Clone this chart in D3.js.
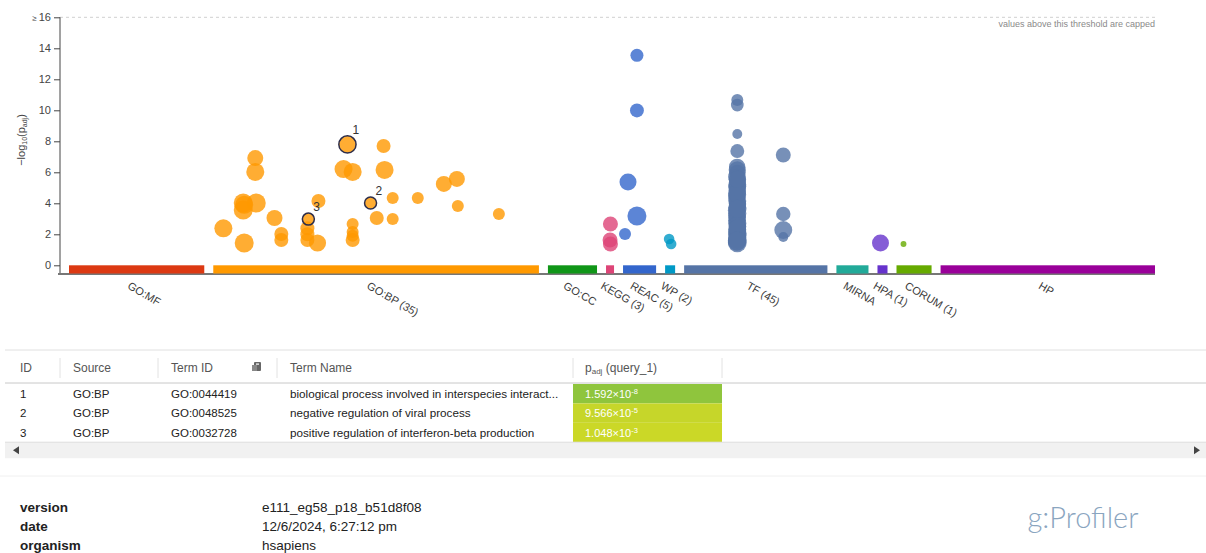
<!DOCTYPE html>
<html>
<head>
<meta charset="utf-8">
<script src="https://cdn.jsdelivr.net/npm/d3@7"></script>
<style>
  html, body { margin: 0; padding: 0; background: #fff; }
  svg { display: block; font-family: "Liberation Sans", Arial, sans-serif; }
</style>
</head>
<body>
<svg id="page" width="1206" height="553"></svg>
<script>
// ---- data sources along the x axis ----
const sources = ["GO:MF", "GO:BP", "GO:CC", "KEGG", "REAC", "WP", "TF", "MIRNA", "HPA", "CORUM", "HP"];
const sourceHits = [0, 35, 0, 3, 5, 2, 45, 0, 1, 1, 0];
// relative size of each source's term space (sets the width of its band)
const sourceTermSpace = [135, 325, 49, 8, 33, 10, 143, 32, 10, 35, 214];
const sourceColors = ["#dc3912", "#ff9900", "#109618", "#dd4477", "#3366cc", "#0099c6",
                      "#5574a6", "#22aa99", "#6633cc", "#66aa00", "#990099"];

const yTicks = [0, 2, 4, 6, 8, 10, 12, 14, 16];
const yCap = 16;

// ---- significant terms: [position within source (0-1), -log10(p_adj), term size] ----
const hitsGOBP = [
  [0.129, 6.92, 1000], [0.129, 6.02, 3200], [0.092, 4.02, 5600], [0.132, 4.02, 5600],
  [0.092, 3.57, 5600], [0.095, 3.90, 3200], [0.031, 2.39, 3200], [0.095, 1.44, 5600],
  [0.188, 3.05, 1000], [0.209, 2.02, 320], [0.209, 1.63, 320], [0.323, 4.15, 320],
  [0.289, 2.39, 320], [0.289, 2.00, 320], [0.289, 1.63, 320], [0.320, 1.44, 2000],
  [0.400, 6.21, 3200], [0.428, 6.02, 3200], [0.428, 2.66, 100], [0.428, 2.15, 100],
  [0.428, 1.90, 100], [0.428, 1.63, 320], [0.523, 7.70, 320], [0.526, 6.15, 3200],
  [0.551, 4.34, 100], [0.502, 3.05, 320], [0.551, 2.99, 100], [0.628, 4.34, 100],
  [0.708, 5.25, 1000], [0.748, 5.57, 1000], [0.751, 3.83, 100], [0.877, 3.31, 100]
];
const hitsKEGG = [[0.55, 2.66, 560], [0.50, 1.63, 560], [0.55, 1.37, 560]];
const hitsREAC = [[0.42, 13.55, 180], [0.42, 9.99, 300], [0.15, 5.37, 1800],
                  [0.42, 3.18, 5600], [0.06, 2.02, 100]];
const hitsWP = [[0.40, 1.70, 45], [0.60, 1.37, 45]];
const hitsTF = [
  [0.371, 10.67, 100], [0.371, 10.34, 150], [0.371, 8.47, 30], [0.371, 7.37, 300],
  [0.371, 6.15, 2000], [0.371, 5.95, 1500], [0.368, 5.70, 2500], [0.372, 5.45, 1800],
  [0.371, 5.20, 3000], [0.369, 5.00, 2200], [0.373, 4.80, 1600], [0.371, 4.55, 2800],
  [0.367, 4.35, 2000], [0.371, 4.15, 3100], [0.374, 3.95, 1700], [0.371, 3.75, 2600],
  [0.366, 3.55, 2100], [0.371, 3.35, 3300], [0.372, 3.10, 1900], [0.369, 2.90, 2700],
  [0.371, 2.70, 3500], [0.373, 2.50, 2300], [0.371, 2.30, 3000], [0.368, 2.15, 2500],
  [0.371, 1.95, 3800], [0.372, 1.80, 2900], [0.371, 1.65, 4200], [0.369, 1.52, 3500],
  [0.371, 1.45, 5000], [0.370, 6.35, 1200], [0.372, 5.10, 2400], [0.371, 4.00, 1400],
  [0.368, 3.20, 2600], [0.371, 2.60, 1800], [0.373, 2.05, 3200], [0.371, 1.72, 2000],
  [0.369, 4.65, 2900], [0.372, 3.65, 3400], [0.371, 2.40, 2200], [0.370, 1.58, 4600],
  [0.372, 5.55, 2100],
  [0.692, 7.12, 560], [0.692, 3.31, 400], [0.692, 2.28, 3000], [0.692, 1.83, 30]
];
const hitsHPA = [[0.30, 1.44, 1800]];
const hitsCORUM = [[0.20, 1.37, 3]];
const hitsBySource = { "GO:BP": hitsGOBP, "KEGG": hitsKEGG, "REAC": hitsREAC, "WP": hitsWP,
                       "TF": hitsTF, "HPA": hitsHPA, "CORUM": hitsCORUM };

// ---- highlighted terms (also listed in the table) ----
const tableIds = [1, 2, 3];
const tableSources = ["GO:BP", "GO:BP", "GO:BP"];
const tableTermIds = ["GO:0044419", "GO:0048525", "GO:0032728"];
const tableNames = ["biological process involved in interspecies interact...",
                    "negative regulation of viral process",
                    "positive regulation of interferon-beta production"];
const tablePadj = [1.592e-8, 9.566e-5, 1.048e-3];
const tablePos = [0.412, 0.483, 0.292];
const tableTermSize = [2000, 100, 100];

// ---- footer ----
const metaKeys = ["version", "date", "organism"];
const metaValues = ["e111_eg58_p18_b51d8f08", "12/6/2024, 6:27:12 pm", "hsapiens"];

// ================= drawing =================
const svg = d3.select("#page");
const plotLeft = 69, plotRight = 1155, bandGap = 9, axisX = 60;
const yBase = 275;

const y = d3.scaleLinear().domain([0, yCap]).range([265.3, 17.3]);
const r = d3.scaleLog().domain([1, 10000]).range([2, 10]);

// lay out one band per source
const spanScale = d3.scaleLinear()
  .domain([0, d3.sum(sourceTermSpace)])
  .range([0, plotRight - plotLeft - bandGap * (sources.length - 1)]);
let acc = 0;
const bands = sources.map((name, i) => {
  const x0 = plotLeft + spanScale(acc) + bandGap * i;
  acc += sourceTermSpace[i];
  const x1 = plotLeft + spanScale(acc) + bandGap * i;
  return { name, i, x0, x1, color: sourceColors[i], hits: sourceHits[i],
           x: d3.scaleLinear().domain([0, 1]).range([x0, x1]) };
});
const bandOf = Object.fromEntries(bands.map(b => [b.name, b]));

// capped threshold line
svg.append("line")
  .attr("x1", axisX).attr("x2", plotRight)
  .attr("y1", y(yCap)).attr("y2", y(yCap))
  .attr("stroke", "#d0d0d0").attr("stroke-dasharray", "3,3");
svg.append("text")
  .attr("x", plotRight).attr("y", 27)
  .attr("text-anchor", "end").attr("font-size", 9).attr("fill", "#8a8a8a")
  .text("values above this threshold are capped");

// y axis
const yAxis = d3.axisLeft(y).tickValues(yTicks).tickSizeOuter(0).tickSize(6).tickPadding(3)
  .tickFormat(d => d === yCap ? "" : d);
const gy = svg.append("g").attr("transform", `translate(${axisX},0)`).call(yAxis);
gy.select(".domain").remove();
gy.selectAll(".tick line").attr("stroke", "#444");
gy.selectAll(".tick text").attr("font-size", 11).attr("fill", "#444")
  .attr("font-family", "Liberation Sans, Arial, sans-serif");
const capTick = gy.selectAll(".tick").filter(d => d === yCap).select("text");
capTick.append("tspan").attr("font-size", 8).text("≥ ");
capTick.append("tspan").attr("font-size", 11).text(yCap);
svg.append("line").attr("x1", axisX).attr("x2", axisX)
  .attr("y1", y(yCap)).attr("y2", yBase).attr("stroke", "#444");

// y axis title
const yTitle = svg.append("text")
  .attr("transform", "translate(25,140) rotate(-90)")
  .attr("text-anchor", "middle").attr("font-size", 11).attr("fill", "#444");
yTitle.append("tspan").text("\u2212log");
yTitle.append("tspan").attr("font-size", 7).attr("dy", 2).text("10");
yTitle.append("tspan").attr("dy", -2).text("(p");
yTitle.append("tspan").attr("font-size", 7).attr("dy", 2).text("adj");
yTitle.append("tspan").attr("dy", -2).text(")");

// source bands
svg.append("line").attr("x1", axisX - 2).attr("x2", plotRight)
  .attr("y1", yBase - 1).attr("y2", yBase - 1)
  .attr("stroke", "#777").attr("stroke-width", 2);
svg.append("g").selectAll("rect").data(bands).join("rect")
  .attr("x", d => d.x0).attr("width", d => d.x1 - d.x0)
  .attr("y", y(0)).attr("height", yBase - 1.5 - y(0))
  .attr("fill", d => d.color);

// source labels
svg.append("g").selectAll("text").data(bands).join("text")
  .attr("transform", d => `translate(${(d.x0 + d.x1) / 2 - 10},288) rotate(30)`)
  .attr("font-size", 11).attr("fill", "#3a3a3a")
  .text(d => d.hits > 0 ? `${d.name} (${d.hits})` : d.name);

// term circles
const points = [];
Object.entries(hitsBySource).forEach(([src, arr]) => {
  arr.forEach(([pos, val, size]) => points.push({ src, pos, val, size }));
});
const highlighted = tableIds.map((id, i) => ({
  id, src: tableSources[i], pos: tablePos[i], val: -Math.log10(tablePadj[i]), size: tableTermSize[i]
}));
points.push(...highlighted);

svg.append("g").selectAll("circle").data(points).join("circle")
  .attr("cx", d => bandOf[d.src].x(d.pos))
  .attr("cy", d => y(Math.min(d.val, yCap)))
  .attr("r", d => r(d.size))
  .attr("fill", d => bandOf[d.src].color)
  .attr("fill-opacity", 0.8);

// outlines and numbers for highlighted terms
const hl = svg.append("g").selectAll("g").data(highlighted).join("g");
hl.append("circle")
  .attr("cx", d => bandOf[d.src].x(d.pos))
  .attr("cy", d => y(d.val))
  .attr("r", d => r(d.size))
  .attr("fill", "none").attr("stroke", "#2d2d4a").attr("stroke-width", 1.5);
hl.append("text")
  .attr("x", d => bandOf[d.src].x(d.pos) + 5)
  .attr("y", d => y(d.val) - r(d.size) - 2)
  .attr("font-size", 12).attr("fill", "#333")
  .text(d => d.id);

// ================= results table =================
const tableLeft = 5, tableRight = 1206;
const headerTop = 350, headerBottom = 383, rowH = 19.4;
const colX = [20, 73, 171, 290, 585];
const colSeps = [60, 158, 277, 573, 722];
const pCell = [573, 722];

svg.append("line").attr("x1", tableLeft).attr("x2", tableRight)
  .attr("y1", headerTop).attr("y2", headerTop).attr("stroke", "#e0e0e0");
svg.append("line").attr("x1", tableLeft).attr("x2", tableRight)
  .attr("y1", headerBottom).attr("y2", headerBottom).attr("stroke", "#c8c8c8");
svg.append("g").selectAll("line").data(colSeps).join("line")
  .attr("x1", d => d).attr("x2", d => d).attr("y1", 358).attr("y2", 378)
  .attr("stroke", "#e2e2e2");

const header = svg.append("g").attr("font-size", 12).attr("fill", "#555");
["ID", "Source", "Term ID", "Term Name"].forEach((t, i) => {
  header.append("text").attr("x", colX[i]).attr("y", 372).text(t);
});
const pHead = header.append("text").attr("x", colX[4]).attr("y", 372);
pHead.append("tspan").text("p");
pHead.append("tspan").attr("font-size", 8).attr("dy", 2).text("adj");
pHead.append("tspan").attr("dy", -2).text(" (query_1)");
// export icon in the Term ID header
const icon = svg.append("g").attr("transform", "translate(252,362)").attr("fill", "#666");
icon.append("rect").attr("x", 2).attr("y", 0).attr("width", 7).attr("height", 9).attr("rx", 1);
icon.append("rect").attr("x", 0).attr("y", 3).attr("width", 5).attr("height", 6).attr("fill", "#888");
icon.append("rect").attr("x", 4).attr("y", 1.5).attr("width", 3).attr("height", 1.2).attr("fill", "#fff");

const pColor = d3.scaleLinear().domain([2, 4, 8, 16])
  .range(["#cfd925", "#c6d62a", "#8cc43e", "#3d9f3b"]);
const fmtP = p => {
  const e = Math.floor(Math.log10(p));
  return { m: (p / Math.pow(10, e)).toFixed(3), e };
};

const rows = svg.append("g").selectAll("g").data(tableIds.map((id, i) => i)).join("g")
  .attr("transform", i => `translate(0,${headerBottom + 1 + i * rowH})`);
rows.append("rect").attr("x", pCell[0]).attr("width", pCell[1] - pCell[0])
  .attr("y", 0).attr("height", rowH)
  .attr("fill", i => pColor(-Math.log10(tablePadj[i])));
rows.each(function (i) {
  const g = d3.select(this);
  const cells = [tableIds[i], tableSources[i], tableTermIds[i], tableNames[i]];
  cells.forEach((c, k) => {
    g.append("text").attr("x", colX[k]).attr("y", 14)
      .attr("font-size", k === 3 ? 11.7 : 11.5).attr("fill", "#222").text(c);
  });
  const f = fmtP(tablePadj[i]);
  const t = g.append("text").attr("x", colX[4]).attr("y", 14)
    .attr("font-size", 11).attr("fill", "#fff");
  t.append("tspan").text(`${f.m}×10`);
  t.append("tspan").attr("font-size", 7.5).attr("dy", -4).text(f.e);
});

// horizontal scrollbar
const sbTop = headerBottom + 1 + tableIds.length * rowH;
svg.append("rect").attr("x", tableLeft).attr("y", sbTop).attr("width", tableRight - tableLeft)
  .attr("height", 16).attr("fill", "#f1f1f1");
svg.append("line").attr("x1", tableLeft).attr("x2", tableRight)
  .attr("y1", sbTop).attr("y2", sbTop).attr("stroke", "#dedede");
svg.append("path").attr("d", `M13,${sbTop + 8} L19,${sbTop + 4} L19,${sbTop + 12} Z`).attr("fill", "#444");
svg.append("path").attr("d", `M1200,${sbTop + 8} L1194,${sbTop + 4} L1194,${sbTop + 12} Z`).attr("fill", "#444");
svg.append("line").attr("x1", 0).attr("x2", 1206).attr("y1", 476).attr("y2", 476)
  .attr("stroke", "#f0f0f0");

// ================= footer =================
const footer = svg.append("g").attr("font-size", 13.5).attr("fill", "#222");
metaKeys.forEach((k, i) => {
  footer.append("text").attr("x", 20).attr("y", 512 + i * 19)
    .attr("font-weight", "bold").text(k);
  footer.append("text").attr("x", 262).attr("y", 512 + i * 19).text(metaValues[i]);
});
svg.append("text").attr("x", 1083).attr("y", 528).attr("text-anchor", "middle")
  .attr("font-size", 29).attr("fill", "#8aa5bf")
  .attr("font-family", "Lato, 'Liberation Sans', Arial, sans-serif").attr("font-weight", 300)
  .text("g:Profiler");
</script>
</body>
</html>
